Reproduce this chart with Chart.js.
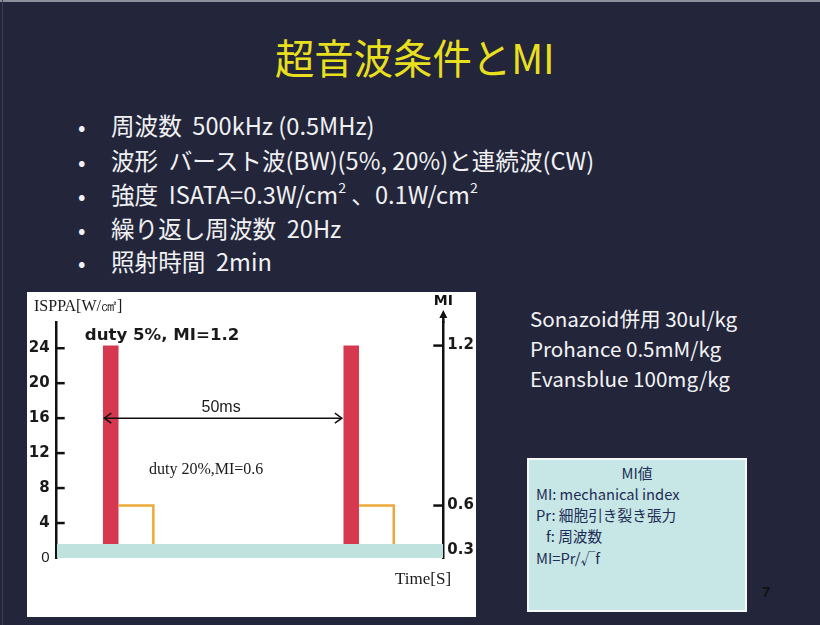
<!DOCTYPE html>
<html><head><meta charset="utf-8">
<script src="https://cdn.jsdelivr.net/npm/chart.js@4.4.1/dist/chart.umd.min.js"></script>
<style>
html,body{margin:0;padding:0;}
body{width:820px;height:625px;background:#23263b;position:relative;overflow:hidden;font-family:"Noto Sans CJK JP","Noto Sans",sans-serif;}
.edge{position:absolute;left:0;top:0;width:820px;height:2px;background:#8d8f9c;}
.edgel{position:absolute;left:2px;top:0;width:1px;height:625px;background:#3b3e52;}
.t{position:absolute;white-space:nowrap;}
#title{left:275px;top:32px;font-size:41px;color:#e8df1e;line-height:48px;transform-origin:0 0;transform:scaleX(0.96);}
.dot{left:78px;font-size:22px;color:#f1f1f3;line-height:30px;}
.bl{left:111px;font-size:23.6px;color:#f1f1f3;line-height:30px;}
.bl .sp{font-size:60%;position:relative;top:-0.75em;vertical-align:baseline;line-height:0;}
.rt{left:530px;font-size:20.6px;color:#f3f3f5;line-height:30px;}
#chartbox{position:absolute;left:27px;top:292px;width:449px;height:325px;background:#fff;}
#mibox{position:absolute;left:527px;top:458px;width:216px;height:150px;background:#c6e7e5;border:2px solid #f4f8f8;color:#1f2c55;font-size:14.7px;}
#mibox .l{position:absolute;white-space:nowrap;line-height:20px;}
#pg{left:762px;top:583px;font-size:15px;font-weight:bold;color:#111;font-family:"Liberation Sans",sans-serif;}
</style></head>
<body>
<div class="edge"></div><div class="edgel"></div>
<div id="title" class="t">超音波条件とMI</div>

<div class="t dot" style="top:110px">•</div>
<div class="t bl" style="top:110px">周波数&nbsp;&nbsp;500kHz (0.5MHz)</div>
<div class="t dot" style="top:145px">•</div>
<div class="t bl" style="top:145px">波形&nbsp;&nbsp;バースト波(BW)(5%, 20%)と連続波(CW)</div>
<div class="t dot" style="top:179px">•</div>
<div class="t bl" style="top:179px">強度&nbsp;&nbsp;ISATA=0.3W/cm<span class="sp">2</span> 、0.1W/cm<span class="sp">2</span></div>
<div class="t dot" style="top:213px">•</div>
<div class="t bl" style="top:213px">繰り返し周波数&nbsp;&nbsp;20Hz</div>
<div class="t dot" style="top:246px">•</div>
<div class="t bl" style="top:246px">照射時間&nbsp;&nbsp;2min</div>

<div class="t rt" style="top:303px">Sonazoid併用 30ul/kg</div>
<div class="t rt" style="top:333px">Prohance 0.5mM/kg</div>
<div class="t rt" style="top:363px">Evansblue 100mg/kg</div>

<div id="mibox">
  <div class="l" style="left:0;width:216px;text-align:center;top:3px;">MI値</div>
  <div class="l" style="left:7px;top:24px;">MI: mechanical index</div>
  <div class="l" style="left:7px;top:45px;">Pr: 細胞引き裂き張力</div>
  <div class="l" style="left:17px;top:66px;">f: 周波数</div>
  <div class="l" style="left:7px;top:88px;">MI=Pr/√f</div>
</div>
<div id="pg" class="t">7</div>

<div id="chartbox"><canvas id="c" width="449" height="325"></canvas></div>

<script>
// ---- data ----
const timeWindow = [-9.6, 70.8];          // ms shown on the time axis
const pulseStarts = [0, 50];              // ms, 20 Hz repetition
const burst5End = 3.3;                    // ms, end of duty 5% burst
const burst5Peak = 24.3;                  // ISPPA W/cm2
const burst20End = 10.5;                  // ms, end of duty 20% burst
const burst20Level = 6;                   // ISPPA W/cm2
const cwLevel = 1.6;                      // ISPPA W/cm2 (continuous wave band)
const arrowSpan = [0.3, 49.7];            // ms, the 50ms arrow
const arrowLevel = 16;                    // ISPPA
const isppaTicks = [0, 4, 8, 12, 16, 20, 24];
const miTickLabels = ['1.2', '0.6', '0.3'];
const miTickAt = [24.3, 6, 0.9];          // ISPPA positions of the MI ticks
const isppaMax = 27;

const datasets = [];
datasets.push({label:'CW', data: timeWindow.map(t => ({x:t, y:cwLevel})),
  fill:'origin', backgroundColor:'#bfe2df', borderWidth:0, pointRadius:0, order:0});
pulseStarts.forEach(s => {
  datasets.push({label:'BW5', data:[{x:s, y:burst5Peak},{x:s+burst5End, y:burst5Peak}],
    fill:'origin', backgroundColor:'#d6394f', borderWidth:0, pointRadius:0, order:3});
  datasets.push({label:'BW20', data:[{x:s+burst5End, y:burst20Level},{x:s+burst20End, y:burst20Level},{x:s+burst20End, y:cwLevel}],
    fill:false, borderColor:'#eca838', borderWidth:2.5, pointRadius:0, order:1, borderJoinStyle:'miter'});
});
datasets.push({label:'arrow', data: arrowSpan.map(t => ({x:t, y:arrowLevel})),
  fill:false, borderColor:'#111', borderWidth:1.5, pointRadius:0, order:1});
const arrowIndex = datasets.length - 1;

const overlay = {
  id:'overlay',
  afterDatasetsDraw(chart){
    const {ctx, chartArea:a, scales:{x, y, y2}} = chart;
    ctx.save();
    ctx.strokeStyle = '#111'; ctx.fillStyle = '#111'; ctx.lineWidth = 2.5;
    y.ticks.forEach(t => {
      if (t.value === 0) return;
      const py = y.getPixelForValue(t.value);
      ctx.beginPath(); ctx.moveTo(a.left, py); ctx.lineTo(a.left + 8, py); ctx.stroke();
    });
    y2.ticks.forEach(t => {
      if (t.value < cwLevel) return;
      const py = y2.getPixelForValue(t.value);
      ctx.beginPath(); ctx.moveTo(a.right - 10, py); ctx.lineTo(a.right, py); ctx.stroke();
    });
    // MI axis arrow
    ctx.beginPath(); ctx.moveTo(a.right, a.top + 1); ctx.lineTo(a.right, a.top - 6); ctx.stroke();
    ctx.beginPath(); ctx.moveTo(a.right, a.top - 12); ctx.lineTo(a.right - 4, a.top - 4); ctx.lineTo(a.right + 4, a.top - 4); ctx.closePath(); ctx.fill();
    ctx.font = 'bold 14px "DejaVu Sans"'; ctx.textAlign = 'center'; ctx.textBaseline = 'middle';
    ctx.fillText('MI', a.right, a.top - 21);
    // 50ms arrowheads
    const pts = chart.getDatasetMeta(arrowIndex).data;
    const p0 = pts[0], p1 = pts[pts.length - 1];
    ctx.lineWidth = 1.5;
    ctx.beginPath(); ctx.moveTo(p0.x + 7, p0.y - 5); ctx.lineTo(p0.x, p0.y); ctx.lineTo(p0.x + 7, p0.y + 5); ctx.stroke();
    ctx.beginPath(); ctx.moveTo(p1.x - 7, p1.y - 5); ctx.lineTo(p1.x, p1.y); ctx.lineTo(p1.x - 7, p1.y + 5); ctx.stroke();
    ctx.fillStyle = '#1a1a1a';
    ctx.font = '16px "Liberation Sans"'; ctx.textAlign = 'center';
    ctx.fillText('50ms', (p0.x + p1.x) / 2 - 2, p0.y - 11);
    // annotations
    ctx.textAlign = 'left';
    ctx.font = 'bold 16.6px "DejaVu Sans"';
    ctx.fillText('duty 5%, MI=1.2', x.getPixelForValue(pulseStarts[0]) - 18, y.getPixelForValue(burst5Peak) - 10);
    ctx.font = '16px "Liberation Serif"';
    ctx.fillText('duty 20%,MI=0.6', 122, 178);
    ctx.fillText('ISPPA[W/㎠]', 7, 15);
    ctx.font = '17px "Liberation Serif"';
    ctx.fillText('Time[S]', 368, 288);
    ctx.restore();
  }
};

new Chart(document.getElementById('c'), {
  type:'line',
  data:{datasets},
  options:{
    responsive:false, animation:false, devicePixelRatio:1,
    layout:{padding:{top:30, bottom:59, left:0, right:0}},
    plugins:{legend:{display:false}, tooltip:{enabled:false}},
    scales:{
      x:{type:'linear', min:timeWindow[0], max:timeWindow[1], display:false},
      y:{position:'left', min:0, max:isppaMax,
        afterBuildTicks:s => { s.ticks = isppaTicks.map(v => ({value:v})); },
        afterFit:s => { s.width = 29.7; },
        grid:{display:false, drawTicks:false},
        border:{display:true, color:'#111', width:2.5},
        ticks:{padding:7, color:'#1a1a1a',
          font:c => c.tick && c.tick.value === 0 ? {family:'Liberation Sans', size:15, weight:'normal'} : {family:'DejaVu Sans', size:15, weight:'bold'}}
      },
      y2:{position:'right', min:0, max:isppaMax,
        afterBuildTicks:s => { s.ticks = miTickAt.map(v => ({value:v})); },
        afterFit:s => { s.width = 32.7; },
        grid:{display:false, drawTicks:false},
        border:{display:true, color:'#111', width:2.5},
        ticks:{padding:4, color:'#1a1a1a', font:{family:'DejaVu Sans', size:15, weight:'bold'},
          callback:(v, i) => miTickLabels[i]}
      }
    }
  },
  plugins:[overlay]
});
</script>
</body></html>
